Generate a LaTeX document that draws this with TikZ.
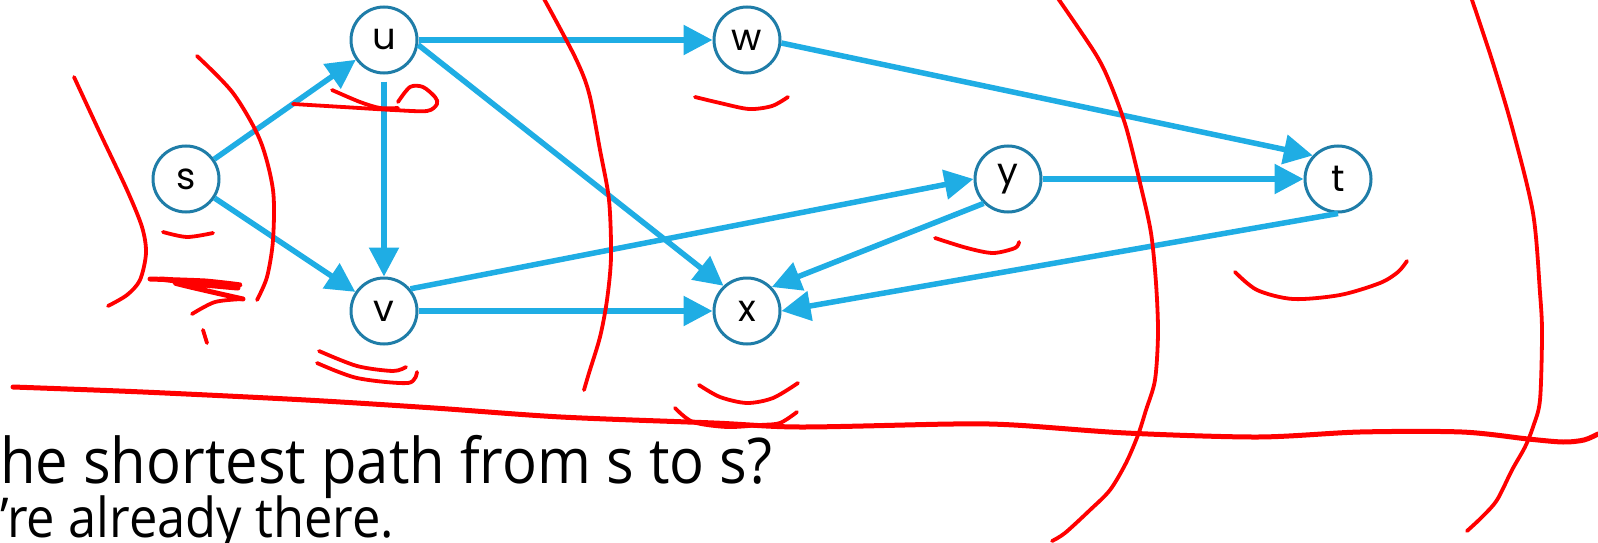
\documentclass[tikz,border=0pt]{standalone}
\usepackage{fontspec}
\usepackage{tikz}
\usetikzlibrary{arrows.meta}
\newfontfamily\nodefont{Poppins}
\newfontfamily\slidefont{Open Sans}[FakeStretch=0.92]
\definecolor{arcblue}{HTML}{1FADE4}
\definecolor{ring}{HTML}{1F7DA8}
\definecolor{inkred}{HTML}{FF0000}
\tikzset{
  vtx/.style={circle, draw=ring, line width=3pt, minimum size=66pt, inner sep=0pt, font=\nodefont\fontsize{37}{37}\selectfont},
  arc/.style={draw=arcblue, line width=5.5pt, -{Triangle[length=29pt,width=29pt]}},
  ink/.style={draw=inkred, line width=3.8pt, line cap=round, line join=round},
  inkb/.style={ink, line width=5pt},
  labq/.style={anchor=base west, inner sep=0pt, text=black}
}

\begin{document}
\begin{tikzpicture}[x=1pt, y=-1pt]
  \useasboundingbox (0,0) rectangle (1598,543);
  \fill[white] (0,0) rectangle (1598,543);

  \node[vtx] (s) at (186,179) {s};
  \node[vtx] (u) at (384,40) {u};
  \node[vtx] (w) at (747,40) {w};
  \node[vtx] (v) at (384,311) {v};
  \node[vtx] (x) at (747,311) {x};
  \node[vtx] (y) at (1008,179) {y};
  \node[vtx] (t) at (1338,179) {t};

  \draw[arc] (s) -- (u);
  \draw[arc] (s) -- (v);
  \draw[arc, shorten <=7pt] (u) -- (v);
  \draw[arc] (u) -- (w);
  \draw[arc] (u.-8) -- (x.133);
  \draw[arc] (w.-5) -- (t.137);
  \draw[arc] (v.40) -- (y.180);
  \draw[arc] (v) -- (x);
  \draw[arc] (y) -- (t);
  \draw[arc] (y.225) -- (x.44);
  \draw[arc] (t.south) -- (x.east);

  \node[labq, font=\slidefont\fontsize{63}{63}\selectfont] (question) at (0,483) {he shortest path from s to s?};
  \node[labq, font=\slidefont\fontsize{55}{55}\selectfont] (answer) at (0,537) {’re already there.};

  % ink on top
  \draw[ink] plot[smooth] coordinates {(74,77) (100,133) (127,190) (142,227) (146,253) (140,280) (127,295) (108,306)};
  \draw[ink] plot[smooth] coordinates {(197,56) (233,93) (260,140) (273,190) (273,240) (267,277) (257,300)};
  \draw[ink] plot[smooth] coordinates {(163,232) (187,237) (213,233)};
  \draw[inkb] plot[smooth, tension=0.3] coordinates {(150,279) (205,281) (240,285) (160,279) (238,288) (175,283) (243,299)};
  \draw[ink] plot[smooth] coordinates {(243,299) (215,302) (192,314)};
  \draw[ink] (203,330) -- (207,343);
  \draw[ink] plot[smooth] coordinates {(332,90) (360,102) (380,108) (398,108)};
  \draw[ink] plot[smooth] coordinates {(293,104) (343,107) (393,110) (427,111) (437,104) (435,97) (423,87) (410,87) (398,102)};
  \draw[ink] plot[smooth] coordinates {(695,97) (720,103) (749,109) (772,106) (788,97)};
  \draw[ink] plot[smooth] coordinates {(543,-3) (575,57) (589,93) (600,150) (609,200) (611,257) (607,300) (600,337) (589,373) (584,390)};
  \draw[ink] plot[smooth] coordinates {(319,351) (357,366) (393,371) (406,367)};
  \draw[ink] plot[smooth] coordinates {(317,363) (357,378) (408,383) (417,372)};
  \draw[ink] plot[smooth] coordinates {(699,385) (720,397) (747,403) (773,398) (798,383)};
  \draw[ink] plot[smooth] coordinates {(675,408) (693,422) (727,427) (760,425) (780,423) (797,412)};
  \draw[ink] plot[smooth] coordinates {(935,238) (967,248) (993,253) (1015,248) (1019,242)};
  \draw[ink] plot[smooth] coordinates {(1057,-3) (1095,53) (1110,83) (1126,127) (1141,187) (1151,233) (1156,283) (1158,333) (1155,380) (1146,410) (1138,435) (1126,463) (1110,490) (1090,510) (1065,533) (1052,541)};
  \draw[ink] plot[smooth] coordinates {(1235,272) (1257,290) (1293,299) (1340,295) (1380,283) (1398,272) (1407,261)};
  \draw[ink] plot[smooth] coordinates {(1471,-3) (1492,60) (1512,127) (1533,213) (1540,293) (1542,333) (1540,400) (1533,427) (1525,447) (1512,470) (1497,500) (1482,517) (1467,531)};
  \draw[inkb] plot[smooth] coordinates {(13,387) (143,392) (306,400) (434,408) (561,417) (714,423) (800,427) (953,424) (1014,425) (1126,433) (1258,437) (1360,432) (1462,432) (1528,439) (1563,442) (1584,440) (1598,434)};
\end{tikzpicture}
\end{document}
